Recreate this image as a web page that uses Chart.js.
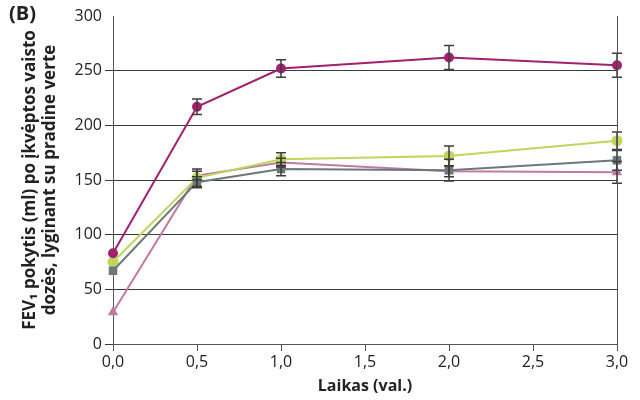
<!DOCTYPE html>
<html>
<head>
<meta charset="utf-8">
<script src="https://cdn.jsdelivr.net/npm/chart.js@4"></script>
<style>
  body { margin: 0; background: #fff; }
  #wrap { width: 640px; height: 400px; }
</style>
</head>
<body>
<div id="wrap"><canvas id="chart"></canvas></div>
<script>
const times = [0, 0.5, 1.0, 2.0, 3.0];
const magentaVals = [83, 217, 252, 262, 255];
const magentaErr = [0, 7, 8, 11, 11];
const limeVals = [75, 152, 169, 172, 186];
const limeErr = [0, 8, 6, 9, 8];
const grayVals = [67, 148, 160, 159, 168];
const grayErr = [0, 5, 6, 10, 9];
const pinkVals = [29, 154, 166, 158, 157];
const pinkErr = [0, 4, 4, 5, 10];
const yTicks = [0, 50, 100, 150, 200, 250, 300];

const toPoints = (vals, errs) => vals.map((v, i) => ({x: times[i], y: v, err: errs[i]}));

const makeSet = (label, vals, errs, color, style, radius) => ({
    label: label,
    data: toPoints(vals, errs),
    borderColor: color,
    backgroundColor: color,
    borderWidth: 2,
    pointStyle: style,
    pointRadius: radius,
    pointBorderWidth: 0,
    showLine: true,
    tension: 0,
    clip: false
});

const errorBars = {
    id: 'errorBars',
    afterDatasetsDraw(chart) {
        const ctx = chart.ctx;
        const xs = chart.scales.x, ys = chart.scales.y;
        ctx.save();
        ctx.strokeStyle = '#3c3c3c';
        ctx.lineWidth = 1.5;
        chart.data.datasets.forEach(ds => {
            ds.data.forEach(p => {
                if (!p.err) return;
                const x = xs.getPixelForValue(p.x);
                const y1 = ys.getPixelForValue(p.y + p.err);
                const y2 = ys.getPixelForValue(p.y - p.err);
                ctx.beginPath();
                ctx.moveTo(x, y1); ctx.lineTo(x, y2);
                ctx.moveTo(x - 5, y1); ctx.lineTo(x + 5, y1);
                ctx.moveTo(x - 5, y2); ctx.lineTo(x + 5, y2);
                ctx.stroke();
            });
        });
        // right border line
        const a = chart.chartArea;
        ctx.strokeStyle = '#555';
        ctx.lineWidth = 1;
        ctx.beginPath();
        ctx.moveTo(a.right + 0.5, a.top);
        ctx.lineTo(a.right + 0.5, a.bottom);
        ctx.stroke();
        // panel label
        ctx.fillStyle = '#222';
        ctx.font = 'bold 20px "Open Sans"';
        ctx.textBaseline = 'top';
        ctx.textAlign = 'left';
        ctx.fillText('(B)', 9, 4);
        ctx.restore();
    }
};

const config = {
    type: 'scatter',
    data: {
        datasets: [
            makeSet('Magenta', magentaVals, magentaErr, '#a3206f', 'circle', 5),
            makeSet('Gray', grayVals, grayErr, '#6b7779', 'rect', 6),
            makeSet('Lime', limeVals, limeErr, '#bcd75b', 'circle', 5.5),
            makeSet('Pink', pinkVals, pinkErr, '#c07aa0', 'triangle', 6)
        ]
    },
    options: {
        responsive: false,
        animation: false,
        layout: { padding: { top: 16, right: 23, left: 0, bottom: 0 } },
        plugins: { legend: { display: false }, tooltip: { enabled: false } },
        scales: {
            x: {
                type: 'linear',
                min: 0, max: 3,
                afterFit: (s) => { s.height = 56; },
                ticks: {
                    stepSize: 0.5,
                    color: '#222',
                    padding: 2,
                    maxRotation: 0,
                    font: { family: 'Open Sans', size: 16 },
                    callback: (v) => v.toFixed(1).replace('.', ',')
                },
                grid: { drawOnChartArea: false, drawTicks: true, tickLength: 7, color: '#555' },
                border: { color: '#555', width: 1 },
                title: {
                    display: true,
                    text: 'Laikas (val.)',
                    color: '#222',
                    padding: { top: 0 },
                    font: { family: 'Open Sans', size: 16, weight: 'bold' }
                }
            },
            y: {
                min: 0, max: 300,
                afterFit: (s) => { s.width = 113; },
                afterBuildTicks: (s) => { s.ticks = yTicks.map(v => ({value: v})); },
                ticks: {
                    color: '#222',
                    padding: 3,
                    font: { family: 'Open Sans', size: 16 }
                },
                grid: {
                    tickLength: 8,
                    color: (c) => (c.tick && c.tick.value === 300) ? 'rgba(0,0,0,0)' : '#3a3a3a',
                    lineWidth: 1
                },
                border: { color: '#555', width: 1 },
                title: {
                    display: true,
                    text: ['FEV\u2081 pokytis (ml) po įkvėptos vaisto', 'dozės, lyginant su pradine verte'],
                    color: '#222',
                    padding: { top: 20, bottom: 0 },
                    font: { family: 'Open Sans', size: 17, weight: 'bold', lineHeight: 1.2 }
                }
            }
        }
    },
    plugins: [errorBars]
};

window.onload = function () {
    const canvas = document.querySelector('#chart');
    canvas.width = 640;
    canvas.height = 400;
    const ctx = canvas.getContext('2d');
    const myChart = new Chart(ctx, config);
};
</script>
</body>
</html>
